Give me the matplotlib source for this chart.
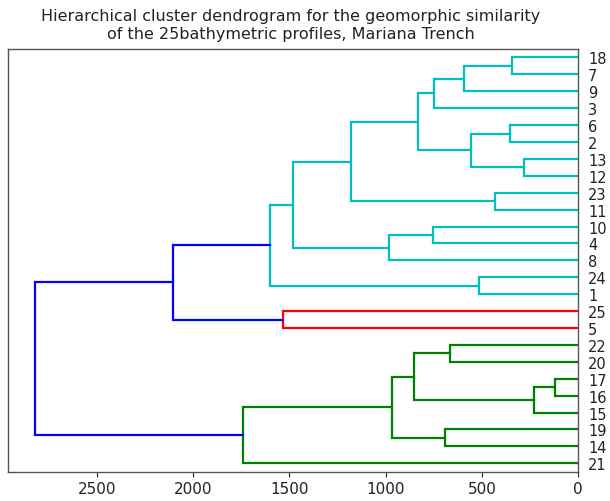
import matplotlib
matplotlib.use("Agg")
import matplotlib.pyplot as plt

# Leaf labels, top to bottom
leaf_order = ["18", "7", "9", "3", "6", "2", "13", "12", "23", "11", "10", "4", "8",
              "24", "1", "25", "5", "22", "20", "17", "16", "15", "19", "14", "21"]

# Merges: (left child, right child); "mK" refers to the K-th merge
merge_left = ["18", "m0", "m1", "6", "13", "m3", "m2", "23", "m6", "10", "m9", "m8",
              "24", "m11", "25", "m13", "22", "17", "m17", "m16", "19", "m19", "m21", "m15"]
merge_right = ["7", "9", "3", "2", "12", "m4", "m5", "11", "m7", "4", "8", "m10",
               "1", "m12", "5", "m14", "20", "16", "15", "m18", "14", "m20", "21", "m22"]
merge_height = [344, 593, 749, 354, 283, 557, 834, 431, 1178, 755, 982, 1482,
                516, 1603, 1532, 2105, 668, 121, 229, 854, 694, 968, 1743, 2820]
merge_cluster = ["c", "c", "c", "c", "c", "c", "c", "c", "c", "c", "c", "c",
                 "c", "c", "r", "b", "g", "g", "g", "g", "g", "g", "g", "b"]

cluster_colors = {"c": "#00BFBF", "r": "#FF0000", "g": "#008000", "b": "#0000FF"}

title = ("Hierarchical cluster dendrogram for the geomorphic similarity\n"
         "of the 25bathymetric profiles, Mariana Trench")

n = len(leaf_order)
pos = {}
hgt = {}
for i, lab in enumerate(leaf_order):
    pos[lab] = 10 * (n - 1 - i) + 5
    hgt[lab] = 0.0

fig = plt.figure(figsize=(6.10, 5.02), dpi=100)
ax = fig.add_axes([8 / 610, 1 - 472.7 / 502, (578.3 - 8) / 610, (472.7 - 50) / 502])

for k, (a, b, h, cl) in enumerate(zip(merge_left, merge_right, merge_height, merge_cluster)):
    ya, yb = pos[a], pos[b]
    ha, hb = hgt[a], hgt[b]
    ax.plot([ha, h, h, hb], [ya, ya, yb, yb], color=cluster_colors[cl], lw=1.6,
            solid_joinstyle="miter")
    name = "m%d" % k
    pos[name] = (ya + yb) / 2
    hgt[name] = h

ax.set_xlim(max(merge_height) * 1.05, 0)
ax.set_ylim(0, 10 * n)
ax.set_xticks([2500, 2000, 1500, 1000, 500, 0])
ax.set_xticklabels(["2500", "2000", "1500", "1000", "500", "0"])
ax.set_yticks([10 * (n - 1 - i) + 5 for i in range(n)])
ax.set_yticklabels(leaf_order)
ax.yaxis.set_ticks_position("right")
ax.tick_params(axis="y", length=0, pad=7, labelsize=10.5, colors="#222222")
ax.tick_params(axis="x", direction="out", length=3.5, labelsize=11, colors="#222222")
ax.xaxis.set_ticks_position("bottom")
for s in ax.spines.values():
    s.set_color("#555555")
    s.set_linewidth(1.0)

fig.text(290.5 / 610, 1 - 25.5 / 502, title, ha="center", va="center",
         fontsize=11.5, color="#222222", linespacing=1.2)

fig.savefig("out.png", dpi=100)
